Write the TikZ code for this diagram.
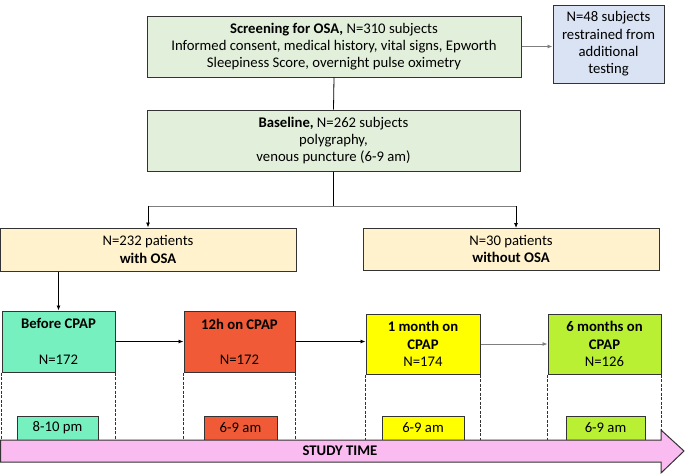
\documentclass[tikz,border=0pt]{standalone}
\usepackage{fontspec}
\setmainfont{Carlito}
\usetikzlibrary{arrows.meta}
\definecolor{boxgreen}{HTML}{E2EFDA}
\definecolor{boxblue}{HTML}{DAE3F3}
\definecolor{boxbeige}{HTML}{FFF2CC}
\definecolor{mint}{HTML}{77F0C0}
\definecolor{redorange}{HTML}{F05A36}
\definecolor{brightyellow}{HTML}{FFFF00}
\definecolor{lime}{HTML}{BAF034}
\definecolor{barpink}{HTML}{F9BBF0}
\definecolor{edge}{HTML}{333333}
\definecolor{conn}{HTML}{7F7F7F}
\newcommand{\diagfont}{\fontsize{14.7}{17.3}\selectfont}
\tikzset{
  box/.style={draw=edge, line width=1pt, inner sep=0pt, align=center,
    font=\diagfont},
  link/.style={line width=0.8pt, draw=black},
  glink/.style={line width=0.8pt, draw=conn},
  tip/.style={-{Latex[length=5pt,width=4pt]}},
  guide/.style={line width=0.6pt, draw=black!80, dash pattern=on 3pt off 1.5pt},
}
\begin{document}
\begin{tikzpicture}[x=1pt,y=-1pt]
\useasboundingbox (0,0) rectangle (685,474);
% top boxes
\node[box, fill=boxgreen, minimum width=374pt, minimum height=61pt] (scr) at (334,46.5)
  {\textbf{Screening for OSA,} N=310 subjects\\Informed consent, medical history, vital signs, Epworth\\Sleepiness Score, overnight pulse oximetry};
\node[box, fill=boxblue, minimum width=111pt, minimum height=78pt] (excl) at (608.5,44)
  {N=48 subjects\\restrained from\\additional\\testing};
\node[box, fill=boxgreen, minimum width=373pt, minimum height=61pt] (base) at (333.5,140.5)
  {\textbf{Baseline,} N=262 subjects\\polygraphy,\\venous puncture (6-9 am)};
\node[box, fill=boxbeige, minimum width=296pt, minimum height=43pt] (osa) at (148,249.5)
  {N=232 patients\\\textbf{with OSA}};
\node[box, fill=boxbeige, minimum width=296pt, minimum height=42pt] (nosa) at (511,249)
  {N=30 patients\\\textbf{without OSA}};
% time point boxes
\node[box, fill=mint, minimum width=113pt, minimum height=61pt] (before) at (58.5,341.5)
  {\textbf{Before CPAP}\\[18pt]N=172};
\node[box, fill=redorange, minimum width=111pt, minimum height=61pt] (h12) at (239.5,341.5)
  {\textbf{12h on CPAP}\\[18pt]N=172};
\node[box, fill=brightyellow, minimum width=114pt, minimum height=60pt] (m1) at (423,344)
  {\textbf{1 month on}\\\textbf{CPAP}\\N=174};
\node[box, fill=lime, minimum width=113pt, minimum height=60pt] (m6) at (604.5,344)
  {\textbf{6 months on}\\\textbf{CPAP}\\N=126};
% small time boxes
\node[box, fill=mint, minimum width=81pt, minimum height=24pt] (t1) at (57.5,428) {8-10 pm};
\node[box, fill=redorange, minimum width=73pt, minimum height=24pt] (t2) at (240.5,428) {6-9 am};
\node[box, fill=brightyellow, minimum width=82pt, minimum height=24pt] (t3) at (423,428) {6-9 am};
\node[box, fill=lime, minimum width=79pt, minimum height=24pt] (t4) at (605.5,428) {6-9 am};
% time arrow
\coordinate (bt) at (0,440);
\draw[guide] (before.south west) -- (before.south west |- bt);
\draw[guide] (before.south east) -- (before.south east |- bt);
\draw[guide] (h12.south west) -- (h12.south west |- bt);
\draw[guide] (h12.south east) -- (h12.south east |- bt);
\draw[guide] (m1.south west) -- (m1.south west |- bt);
\draw[guide] (m1.south east) -- (m1.south east |- bt);
\draw[guide] (m6.south west) -- (m6.south west |- bt);
\draw[guide] (m6.south east) -- (m6.south east |- bt);
\draw[draw=edge, line width=1pt, fill=barpink, line join=miter]
  (0.5,440) -- (661,440) -- (661,430) -- (684,451) -- (661,473) -- (661,462) -- (0.5,462) -- cycle;
\node[font=\diagfont\bfseries] (st) at (340,451) {STUDY TIME};
% connectors
\draw[glink, tip] (scr.east) -- (scr.east -| excl.west);
\draw[link] (scr.south) -- (base.north);
\coordinate (sp) at (333.5,206);
\draw[link] (base.south) -- (sp);
\draw[glink] (sp) -- (sp -| osa.north);
\draw[glink] (sp) -- (sp -| 516,0);
\draw[link, tip] (sp -| osa.north) -- (osa.north);
\draw[link, tip] (sp -| 516,0) -- (516,228);
\draw[link, tip] (before.north |- osa.south) -- (before.north);
\draw[link, tip] (before.east) -- (before.east -| h12.west);
\draw[link, tip] (h12.east) -- (h12.east -| m1.west);
\draw[glink, tip] (m1.east) -- (m1.east -| m6.west);
\end{tikzpicture}
\end{document}
